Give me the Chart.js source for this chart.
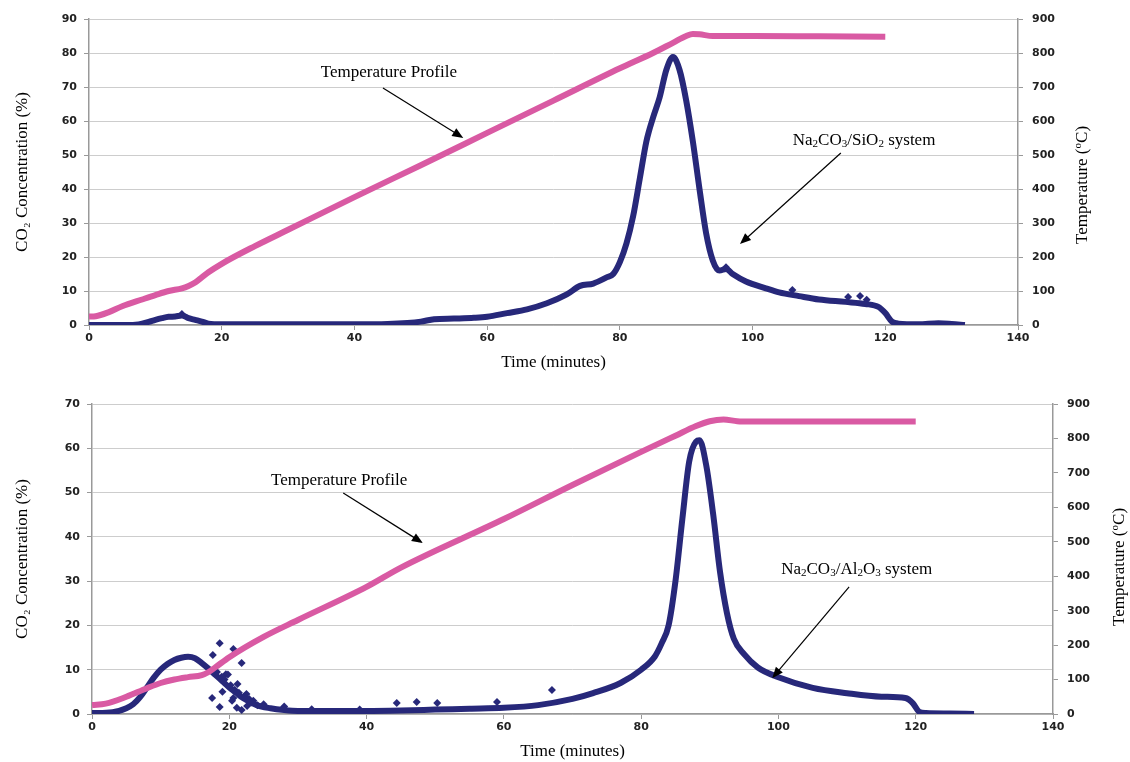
<!DOCTYPE html>
<html>
<head>
<meta charset="utf-8">
<script src="https://cdn.jsdelivr.net/npm/chart.js@4.4.0/dist/chart.umd.min.js"></script>
<style>
  body { margin: 0; background: #fff; }
  .box { position: absolute; left: 0; width: 1130px; }
</style>
</head>
<body>
<div class="box" style="top:0;height:380px"><canvas id="silicaChart" width="1130" height="380"></canvas></div>
<div class="box" style="top:380px;height:382px"><canvas id="aluminaChart" width="1130" height="382"></canvas></div>
<script>
// --- Na2CO3/SiO2 run (top) ---
const tempTimeA = [0, 1, 3, 5, 8, 10, 12, 14, 15, 16, 17, 18, 20, 25, 30, 40, 50, 60, 70, 80, 85, 88, 90, 91, 92, 94, 100, 110, 120];
const tempA     = [25, 26, 38, 55, 75, 88, 100, 108, 115, 125, 140, 155, 180, 232, 280, 376, 470, 565, 660, 755, 800, 830, 850, 856, 855, 850, 850, 849, 848];
const co2TimeA  = [0, 5, 7, 8, 9, 10, 11, 12, 13, 14, 15, 16, 17, 18, 20, 30, 40, 45, 48, 50, 52, 55, 58, 60, 63, 66, 69, 72, 74, 76, 78, 79, 80, 81, 82, 83, 84, 85, 86, 87, 88, 89, 90, 91, 92, 93, 94, 95, 96, 97, 99, 102, 104, 107, 110, 114, 117, 119, 120, 121, 122, 125, 128, 130, 132];
const co2A      = [0, 0, 0.1, 0.4, 0.9, 1.5, 2.0, 2.4, 2.5, 2.8, 2.0, 1.5, 1.0, 0.4, 0.2, 0.2, 0.2, 0.3, 0.6, 1.0, 1.7, 1.9, 2.1, 2.4, 3.5, 4.6, 6.4, 9.0, 11.5, 12.2, 14.0, 15.0, 18.5, 24, 32, 43, 54, 61, 67, 75, 78.8, 75, 66, 54, 40, 27, 19, 16, 16.5, 15, 12.8, 10.8, 9.6, 8.5, 7.5, 6.8, 6.2, 5.3, 3.5, 1.0, 0.4, 0.2, 0.5, 0.3, 0.0];
const dotTimeA  = [14, 96, 106, 114.4, 116.2, 117.2];
const dotsA     = [3.2, 17, 10.3, 8.2, 8.5, 7.4];

// --- Na2CO3/Al2O3 run (bottom) ---
const tempTimeB = [0, 2, 5, 8, 10, 12, 14, 16, 17, 18, 20, 25, 30, 40, 45, 60, 70, 80, 85, 88, 90, 92, 94, 96, 100, 110, 120];
const tempB     = [26, 30, 50, 75, 90, 100, 107, 113, 122, 136, 165, 224, 273, 369, 425, 566, 665, 761, 808, 836, 850, 855, 850, 849, 849, 849, 849];
const co2TimeB  = [0, 3, 5, 6, 7, 8, 9, 10, 11, 12, 13, 14, 15, 16, 17, 18, 19, 20, 21, 22, 24, 26, 28, 30, 40, 45, 50, 55, 60, 65, 70, 73, 77, 80, 82, 83, 84, 85, 86, 87, 88, 88.5, 89.5, 90.5, 91.5, 92.5, 93.5, 95, 97, 100, 105, 110, 115, 118.5, 119.6, 120.5, 121.5, 125, 128.5];
const co2B      = [0.2, 0.4, 1.3, 2.2, 3.8, 6, 8.2, 10, 11.3, 12.2, 12.7, 12.9, 12.6, 11.5, 10.2, 8.8, 7.4, 6, 4.8, 3.6, 2, 1.3, 0.9, 0.7, 0.7, 0.8, 1.0, 1.2, 1.4, 2.0, 3.4, 4.7, 7, 10, 13, 16, 20, 30, 44, 57, 61.5, 61.8, 56, 45, 32, 22.8, 17, 13.5, 10.5, 8.3, 5.9, 4.7, 3.9, 3.6, 2.4, 0.5, 0.2, 0.1, 0];
const dotTimeB  = [17.6, 18.6, 20.6, 21.8, 17.5, 18.6, 20.6, 21.1, 21.8, 19.5, 20.2, 22.5, 23.5, 25, 28, 32, 39, 44.4, 47.3, 50.3, 59.0, 67.0,
                   18.2, 18.9, 19.3, 19.8, 20.1, 20.8, 21.4, 22.2, 22.9, 23.2, 24.1, 19.0, 20.4, 21.2, 22.6];
const dotsB     = [13.3, 16.0, 14.7, 11.5, 3.6, 1.6, 3.6, 1.4, 0.9, 9, 6.5, 4.5, 3, 2.2, 1.7, 1.1, 1.0, 2.5, 2.7, 2.5, 2.7, 5.4,
                   9.5, 8.4, 7.8, 8.9, 6.0, 5.5, 4.8, 4.0, 3.4, 2.6, 2.0, 5.0, 3.0, 6.8, 1.8];

const PINK = '#d95aa3';
const NAVY = '#27287a';
const TICK_FONT = { family: 'DejaVu Sans', size: 11, weight: 'bold' };
const TITLE_FONT = { family: 'Liberation Serif', size: 17 };

function pairs(xs, ys) {
  return xs.map((t, i) => ({ x: t, y: ys[i] }));
}

// text with _x subscripts and ^x superscripts
function drawRich(ctx, text, cx, cy, size) {
  const parts = [];
  for (let i = 0; i < text.length; i++) {
    const c = text[i];
    if ((c === '_' || c === '^') && i + 1 < text.length) {
      parts.push({ t: text[i + 1], dy: c === '_' ? size * 0.25 : -size * 0.3, small: true });
      i++;
    } else {
      if (parts.length && !parts[parts.length - 1].small) parts[parts.length - 1].t += c;
      else parts.push({ t: c, dy: 0, small: false });
    }
  }
  const fontOf = p => (p.small ? size * 0.65 : size) + 'px "Liberation Serif"';
  let w = 0;
  parts.forEach(p => { ctx.font = fontOf(p); p.w = ctx.measureText(p.t).width; w += p.w; });
  let x = cx - w / 2;
  ctx.fillStyle = '#000';
  ctx.textBaseline = 'middle';
  ctx.textAlign = 'left';
  parts.forEach(p => {
    ctx.font = fontOf(p);
    ctx.fillText(p.t, x, cy + p.dy);
    x += p.w;
  });
}

function drawArrow(ctx, x1, y1, x2, y2) {
  const a = Math.atan2(y2 - y1, x2 - x1);
  const len = 11, half = 4.5;
  ctx.strokeStyle = '#000';
  ctx.lineWidth = 1.2;
  ctx.beginPath();
  ctx.moveTo(x1, y1);
  ctx.lineTo(x2 - len * 0.8 * Math.cos(a), y2 - len * 0.8 * Math.sin(a));
  ctx.stroke();
  ctx.beginPath();
  ctx.moveTo(x2, y2);
  ctx.lineTo(x2 - len * Math.cos(a) + half * Math.sin(a), y2 - len * Math.sin(a) - half * Math.cos(a));
  ctx.lineTo(x2 - len * Math.cos(a) - half * Math.sin(a), y2 - len * Math.sin(a) + half * Math.cos(a));
  ctx.closePath();
  ctx.fillStyle = '#000';
  ctx.fill();
}

const notesPlugin = {
  id: 'notes',
  afterDatasetsDraw(chart, args, opts) {
    const { ctx, scales, chartArea } = chart;
    const x = scales.x, y = scales.y;
    ctx.save();
    (opts.items || []).forEach(n => {
      drawRich(ctx, n.text, x.getPixelForValue(n.at[0]), y.getPixelForValue(n.at[1]), 17);
      drawArrow(ctx, x.getPixelForValue(n.from[0]), y.getPixelForValue(n.from[1]),
                x.getPixelForValue(n.to[0]), y.getPixelForValue(n.to[1]));
    });
    // right axis title reads bottom-to-top like the left one
    ctx.translate(scales.yT.right - opts.rightTitleOffset, (chartArea.top + chartArea.bottom) / 2 + opts.rightTitleShift);
    ctx.rotate(-Math.PI / 2);
    drawRich(ctx, 'Temperature (^oC)', 0, 0, 17);
    ctx.restore();
  }
};

function buildChart(id, s) {
  return new Chart(document.getElementById(id), {
    type: 'scatter',
    data: {
      datasets: [
        { data: pairs(s.tempTime, s.temp), yAxisID: 'yT', showLine: true, borderColor: PINK, borderWidth: 6,
          pointRadius: 0, cubicInterpolationMode: 'monotone' },
        { data: pairs(s.co2Time, s.co2), yAxisID: 'y', showLine: true, borderColor: NAVY, borderWidth: 6,
          pointRadius: 0, cubicInterpolationMode: 'monotone' },
        { data: pairs(s.dotTime, s.dots), yAxisID: 'y', pointStyle: 'rectRot', pointRadius: 4,
          backgroundColor: NAVY, borderColor: NAVY, borderWidth: 0 }
      ]
    },
    options: {
      responsive: false,
      animation: false,
      layout: { padding: { top: s.top, left: 0, right: 0, bottom: 0 } },
      plugins: {
        legend: { display: false },
        tooltip: { enabled: false },
        notes: { items: s.notes, rightTitleOffset: s.rightTitleOffset, rightTitleShift: s.rightTitleShift }
      },
      scales: {
        x: {
          type: 'linear', min: 0, max: 140,
          ticks: { stepSize: 20, padding: 2, font: TICK_FONT, color: '#222' },
          grid: { drawOnChartArea: false, tickLength: 5, color: '#999' },
          border: { color: '#999', width: 1.5 },
          title: { display: true, text: 'Time (minutes)', font: TITLE_FONT, color: '#000', padding: { top: 0, bottom: s.xTitlePad } },
          afterFit: sc => { sc.height = s.xHeight; }
        },
        y: {
          position: 'left', min: 0, max: s.co2Max,
          ticks: { stepSize: 10, padding: 7, font: TICK_FONT, color: '#222' },
          grid: { color: '#cdcdcd', tickLength: 5, tickColor: '#999' },
          border: { color: '#999', width: 1.5 },
          title: { display: true, text: 'CO₂ Concentration (%)', font: TITLE_FONT, color: '#000', padding: { top: 12, bottom: 0 } },
          afterFit: sc => { sc.width = s.leftW; }
        },
        yT: {
          position: 'right', min: 0, max: 900,
          ticks: { stepSize: 100, padding: 9, font: TICK_FONT, color: '#222' },
          grid: { drawOnChartArea: false, tickLength: 5, color: '#999' },
          border: { color: '#999', width: 1.5 },
          afterFit: sc => { sc.width = s.rightW; }
        }
      }
    },
    plugins: [notesPlugin]
  });
}

buildChart('silicaChart', {
  tempTime: tempTimeA, temp: tempA, co2Time: co2TimeA, co2: co2A, dotTime: dotTimeA, dots: dotsA,
  co2Max: 90, top: 19, xHeight: 55, leftW: 89, rightW: 112, xTitlePad: 7,
  rightTitleOffset: 47, rightTitleShift: 13,
  notes: [
    { text: 'Temperature Profile', at: [45.2, 74.4], from: [44.3, 69.7], to: [56.4, 55] },
    { text: 'Na_2CO_3/SiO_2 system', at: [116.8, 54.4], from: [113.3, 50.6], to: [98.1, 23.8] }
  ]
});

buildChart('aluminaChart', {
  tempTime: tempTimeB, temp: tempB, co2Time: co2TimeB, co2: co2B, dotTime: dotTimeB, dots: dotsB,
  co2Max: 70, top: 24, xHeight: 48, leftW: 92, rightW: 77, xTitlePad: 0,
  rightTitleOffset: 10, rightTitleShift: 8,
  notes: [
    { text: 'Temperature Profile', at: [36.0, 52.8], from: [36.6, 49.9], to: [48.2, 38.6] },
    { text: 'Na_2CO_3/Al_2O_3 system', at: [111.4, 32.7], from: [110.3, 28.7], to: [99.1, 8.1] }
  ]
});
</script>
</body>
</html>
